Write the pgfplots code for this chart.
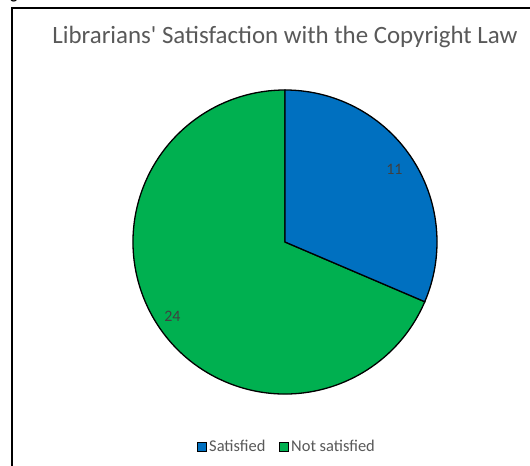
\documentclass[border=0pt]{standalone}
\usepackage{pgfplots}
\pgfplotsset{compat=1.18}
\usepackage{pgfplotstable}
\usetikzlibrary{calc}
\usepackage{fontspec}
\setmainfont{Carlito}
\newfontfamily\plainfont{Carlito}[Ligatures=TeXOff]
\definecolor{satblue}{HTML}{0070C0}
\definecolor{notgreen}{HTML}{00B050}
\definecolor{titlegray}{HTML}{595959}
\definecolor{labelgray}{HTML}{404040}
\pgfplotstableread{
label value
Satisfied 11
NotSatisfied 24
}\piedata
\begin{document}
\begin{tikzpicture}[x=1bp,y=1bp]
\useasboundingbox (0,0) rectangle (530,466);
\fill[white] (0,0) rectangle (530,466);
\node[anchor=base, font=\bfseries\fontsize{15}{18}\selectfont, inner sep=0] at (14,466.5) {g};
\draw[line width=2bp] (12,-5) -- (12,458) -- (545,458);
\node[titlegray, font=\plainfont\fontsize{25}{28}\selectfont] at (285,429) {Librarians' Satisfaction with the Copyright Law};
\pgfplotstablegetelem{0}{value}\of\piedata \let\va\pgfplotsretval
\pgfplotstablegetelem{1}{value}\of\piedata \let\vb\pgfplotsretval
\pgfmathsetmacro\total{\va+\vb}
\pgfmathsetmacro\angA{90-360*\va/\total}
\pgfmathsetmacro\angB{\angA-360*\vb/\total}
\pgfmathsetmacro\midA{(90+\angA)/2}
\pgfmathsetmacro\midB{(\angA+\angB)/2}
\begin{axis}[at={(285bp,224bp)}, anchor=center, scale only axis,
  width=304bp, height=304bp, xmin=-1, xmax=1, ymin=-1, ymax=1,
  hide axis, clip=false,
  legend columns=2,
  legend style={at={(0.507,-0.174)}, anchor=center, draw=none, fill=none,
    text=titlegray, font=\fontsize{16.5}{19}\selectfont,
    /tikz/every even column/.append style={column sep=12bp}},
  legend cell align=left]
\addlegendimage{area legend, legend image code/.code={\filldraw[fill=satblue, draw=black, line width=0.8bp] (0bp,-4.5bp) rectangle (9bp,4.5bp);}}
\addlegendentry{Satisfied}
\addlegendimage{area legend, legend image code/.code={\filldraw[fill=notgreen, draw=black, line width=0.8bp] (0bp,-4.5bp) rectangle (9bp,4.5bp);}}
\addlegendentry{Not satisfied}
\filldraw[fill=notgreen, draw=black, line width=1.3bp] (axis cs:0,0) -- ++(\angA:152bp) arc[start angle=\angA, end angle=\angB, radius=152bp] -- cycle;
\filldraw[fill=satblue, draw=black, line width=1.3bp] (axis cs:0,0) -- ++(90:152bp) arc[start angle=90, end angle=\angA, radius=152bp] -- cycle;
\node[labelgray, font=\fontsize{16}{18}\selectfont] at ($(axis cs:0,0)+(\midA:131bp)$) {\va};
\node[labelgray, font=\fontsize{16}{18}\selectfont] at ($(axis cs:0,0)+(\midB:135bp)$) {\vb};
\end{axis}
\end{tikzpicture}
\end{document}
